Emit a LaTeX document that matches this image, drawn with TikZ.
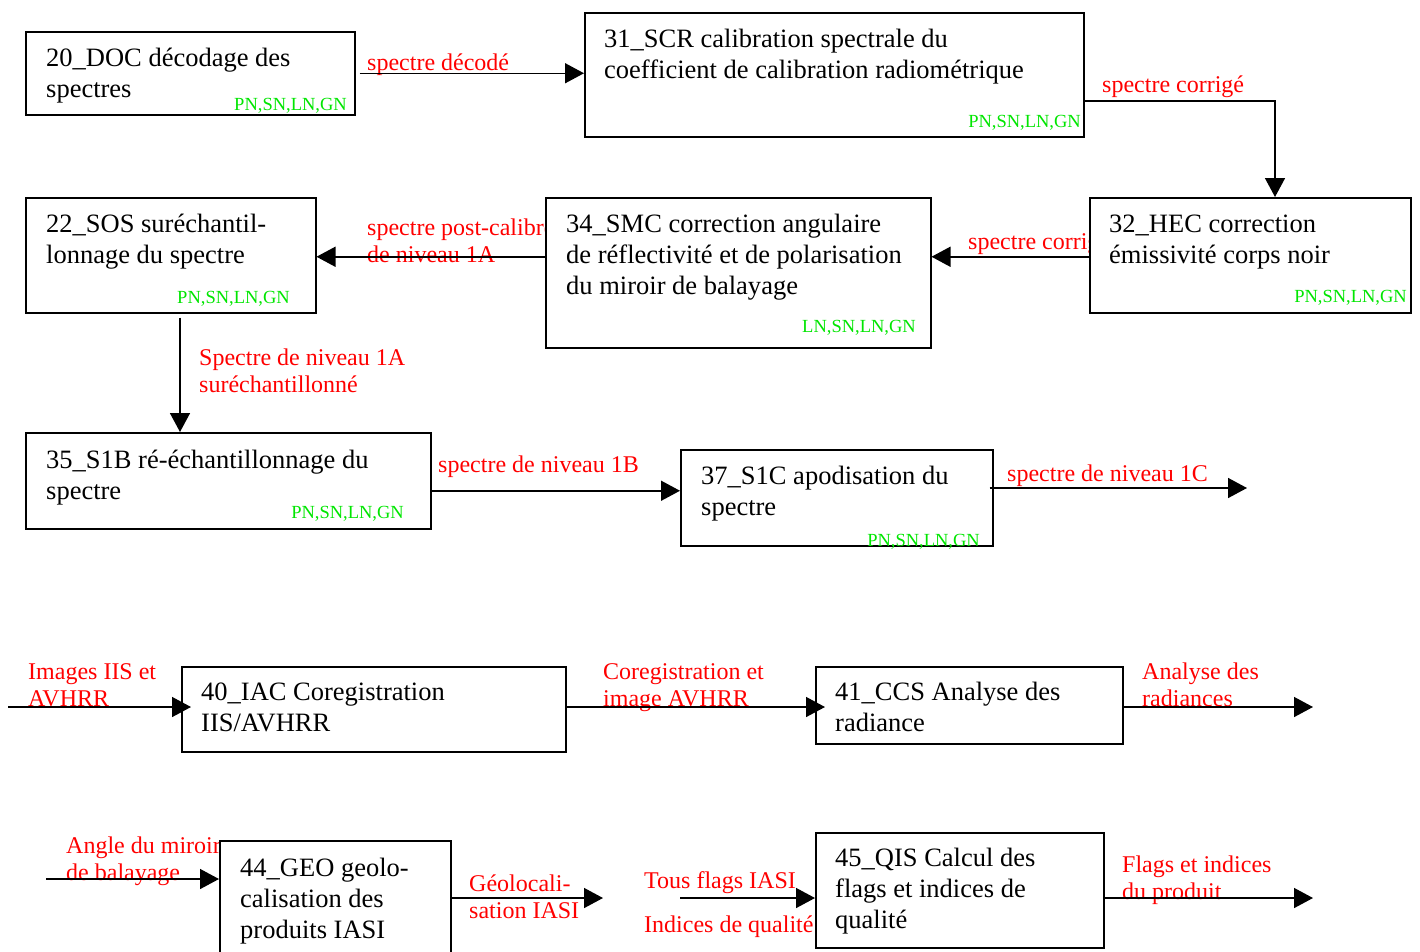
\documentclass[tikz,border=0pt]{standalone}
\usepackage{fontspec}
\setmainfont{Liberation Serif}
\usetikzlibrary{arrows.meta,calc}
\definecolor{lblred}{RGB}{255,0,0}
\definecolor{lblgreen}{RGB}{0,230,0}
\newcommand{\lns}[1]{\vtop{\halign{##\hfil\cr #1\crcr}}}
\tikzset{
  box/.style={draw, line width=1.5pt, fill=white, inner sep=0pt, anchor=north west},
  btext/.style={anchor=base west, inner sep=0pt, font=\fontsize{26.5}{31}\selectfont},
  rtext/.style={anchor=base west, inner sep=0pt, text=lblred, font=\fontsize{24}{27}\selectfont},
  gtext/.style={anchor=base east, inner sep=0pt, text=lblgreen, font=\fontsize{18.5}{20}\selectfont},
  conn/.style={line width=1.5pt, -{Triangle[length=19pt,width=20pt]}}
}
\begin{document}
\begin{tikzpicture}[x=1pt,y=-1pt]
\clip (0,0) rectangle (1420,951);
\fill[white] (0,0) rectangle (1420,951);

% labels (drawn first, boxes may cover them)
\node[rtext] (l1) at (367,70) {spectre décodé};
\node[rtext] (l2) at (1102,92) {spectre corrigé};
\node[rtext] (l3) at (968,249) {spectre corrigé};
\node[rtext] (l4) at (367,235) {\lns{spectre post-calibré\cr de niveau 1A}};
\node[rtext] (l5) at (199,365) {\lns{Spectre de niveau 1A\cr suréchantillonné}};
\node[rtext] (l6) at (438,472) {spectre de niveau 1B};
\node[rtext] (l7) at (1007,481) {spectre de niveau 1C};
\node[rtext] (l8) at (28,679) {\lns{Images IIS et\cr AVHRR}};
\node[rtext] (l9) at (603,679) {\lns{Coregistration et\cr image AVHRR}};
\node[rtext] (l10) at (1142,679) {\lns{Analyse des\cr radiances}};
\node[rtext] (l11) at (66,853) {\lns{Angle du miroir\cr de balayage}};
\node[rtext] (l12) at (469,891) {\lns{Géolocali-\cr sation IASI}};
\node[rtext] (l13) at (644,888) {Tous flags IASI};
\node[rtext] (l14) at (644,932) {Indices de qualité};
\node[rtext] (l15) at (1122,872) {\lns{Flags et indices\cr du produit}};

% boxes
\node[box, minimum width=329pt, minimum height=83pt] (doc) at (25,31) {};
\node[box, minimum width=499pt, minimum height=124pt] (scr) at (584,12) {};
\node[box, minimum width=321pt, minimum height=115pt] (hec) at (1089,197) {};
\node[box, minimum width=385pt, minimum height=150pt] (smc) at (545,197) {};
\node[box, minimum width=290pt, minimum height=115pt] (sos) at (25,197) {};
\node[box, minimum width=405pt, minimum height=96pt] (s1b) at (25,432) {};
\node[box, minimum width=312pt, minimum height=96pt] (s1c) at (680,449) {};
\node[box, minimum width=384pt, minimum height=85pt] (iac) at (181,666) {};
\node[box, minimum width=307pt, minimum height=77pt] (ccs) at (815,666) {};
\node[box, minimum width=231pt, minimum height=130pt] (geo) at (219,840) {};
\node[box, minimum width=288pt, minimum height=115pt] (qis) at (815,832) {};

% box texts
\node[btext] (doct) at (46,66) {\lns{20\_DOC décodage des\cr spectres}};
\node[btext] (scrt) at (604,47) {\lns{31\_SCR calibration spectrale du\cr coefficient de calibration radiométrique}};
\node[btext] (hect) at (1109,232) {\lns{32\_HEC correction\cr émissivité corps noir}};
\node[btext] (smct) at (566,232) {\lns{34\_SMC correction angulaire\cr de réflectivité et de polarisation\cr du miroir de balayage}};
\node[btext] (sost) at (46,232) {\lns{22\_SOS suréchantil-\cr lonnage du spectre}};
\node[btext] (s1bt) at (46,468) {\lns{35\_S1B ré-échantillonnage du\cr spectre}};
\node[btext] (s1ct) at (701,484) {\lns{37\_S1C apodisation du\cr spectre}};
\node[btext] (iact) at (201,700) {\lns{40\_IAC Coregistration\cr IIS/AVHRR}};
\node[btext] (ccst) at (835,700) {\lns{41\_CCS Analyse des\cr radiance}};
\node[btext] (geot) at (240,876) {\lns{44\_GEO geolo-\cr calisation des\cr produits IASI}};
\node[btext] (qist) at (835,866) {\lns{45\_QIS Calcul des\cr flags et indices de\cr qualité}};

% green tags
\node[gtext] (docg) at (347,110) {PN,SN,LN,GN};
\node[gtext] (scrg) at (1081,127) {PN,SN,LN,GN};
\node[gtext] (hecg) at (1407,302) {PN,SN,LN,GN};
\node[gtext] (smcg) at (916,332) {LN,SN,LN,GN};
\node[gtext] (sosg) at (290,303) {PN,SN,LN,GN};
\node[gtext] (s1bg) at (404,518) {PN,SN,LN,GN};
\node[gtext] (s1cg) at (980,546) {PN,SN,LN,GN};

% free ends
\coordinate (out1) at (1247,488);
\coordinate (in1) at (8,707);
\coordinate (out2) at (1313,707);
\coordinate (in3) at (46,879);
\coordinate (out3) at (603,898);
\coordinate (in4) at (680,898);
\coordinate (out4) at (1313,898);
\coordinate (c1) at ($(s1b.east)+(0,10)$);
\coordinate (c2) at ($(scr.east)+(0,26)$);

% connectors
\draw[conn] ([xshift=4pt]doc.east) -- (doc.east -| scr.west);
\draw[conn] (c2) -| ($(hec.north west)+(186,0)$);
\draw[conn] ($(hec.west)+(0,1.5)$) -- ($(hec.west -| smc.east)+(0,1.5)$);
\draw[conn] ($(sos.east -| smc.west)+(0,1.5)$) -- ($(sos.east)+(0,1.5)$);
\draw[conn] ($(sos.south west)+(155,4)$) -- ($(s1b.north west)+(155,0)$);
\draw[conn] (c1) -- (c1 -| s1c.west);
\draw[conn] ($(out1 -| s1c.east)+(-4,0)$) -- (out1);
\draw[conn] (in1) -- ([xshift=10pt]in1 -| iac.west);
\draw[conn] (in1 -| iac.east) -- ([xshift=10pt]in1 -| ccs.west);
\draw[conn] (out2 -| ccs.east) -- (out2);
\draw[conn] (in3) -- (in3 -| geo.west);
\draw[conn] (out3 -| geo.east) -- (out3);
\draw[conn] (in4) -- (in4 -| qis.west);
\draw[conn] (out4 -| qis.east) -- (out4);
\end{tikzpicture}
\end{document}
